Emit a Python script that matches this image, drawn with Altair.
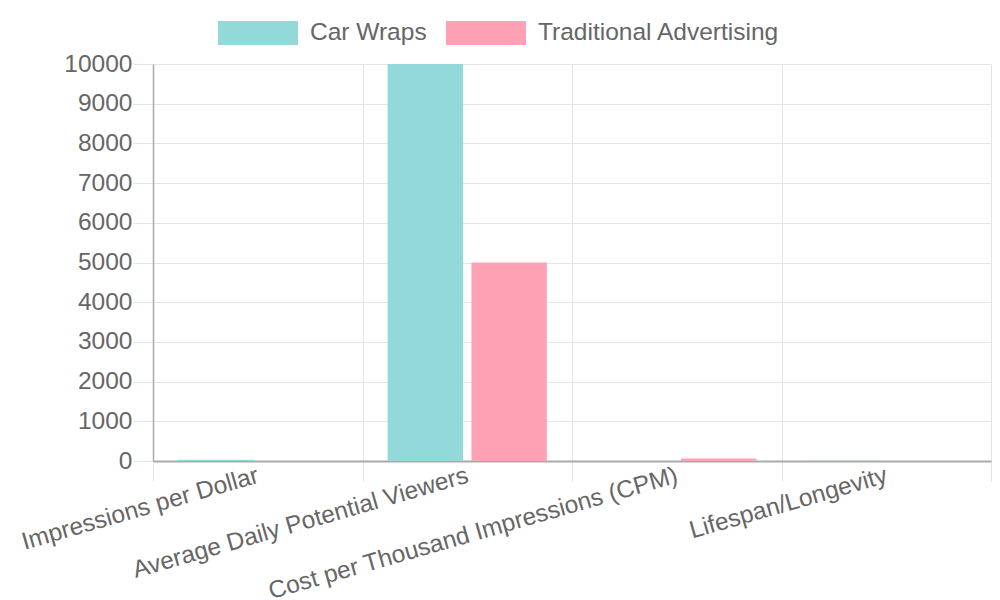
import altair as alt
import pandas as pd

categories = [
    "Impressions per Dollar",
    "Average Daily Potential Viewers",
    "Cost per Thousand Impressions (CPM)",
    "Lifespan/Longevity",
]
series = ["Car Wraps", "Traditional Advertising"]
car_wraps = [30, 10000, 0.7, 5]
traditional = [2, 5000, 60, 1]
colors = ["#93d9d9", "#ffa1b5"]
y_ticks = list(range(0, 10001, 1000))

rows = []
for c, a, b in zip(categories, car_wraps, traditional):
    rows.append({"metric": c, "series": series[0], "value": a})
    rows.append({"metric": c, "series": series[1], "value": b})
df = pd.DataFrame(rows)

FONT = "Liberation Sans"
GRID = "#e5e5e5"
AXIS = "#aaaaaa"
TEXT = "#666666"
FS = 24.5

chart = alt.Chart(df).mark_bar().encode(
    x=alt.X(
        "metric:N",
        sort=categories,
        title=None,
        scale=alt.Scale(paddingInner=0, paddingOuter=0),
        axis=alt.Axis(
            tickBand="extent",
            labelAngle=344,
            labelAlign="right",
            labelBaseline="middle",
            labelPadding=-6,
            tickSize=20,
            grid=True,
            gridColor=GRID,
            tickColor=GRID,
            domainColor=AXIS,
            domainWidth=2,
            labelFontSize=FS,
            labelColor=TEXT,
            labelFont=FONT,
            labelLimit=700,
        ),
    ),
    xOffset=alt.XOffset(
        "series:N", sort=series, scale=alt.Scale(paddingInner=0.1, paddingOuter=0.3)
    ),
    y=alt.Y(
        "value:Q",
        title=None,
        scale=alt.Scale(domain=[0, 10000], nice=False),
        axis=alt.Axis(
            values=y_ticks,
            format="d",
            tickSize=20,
            labelPadding=1,
            grid=True,
            gridColor=GRID,
            tickColor=GRID,
            domainColor=AXIS,
            domainWidth=1.5,
            labelFontSize=FS,
            labelColor=TEXT,
            labelFont=FONT,
        ),
    ),
    color=alt.Color(
        "series:N",
        sort=series,
        scale=alt.Scale(domain=series, range=colors),
        legend=alt.Legend(
            title=None,
            orient="none",
            direction="horizontal",
            legendX=65,
            legendY=-71,
            symbolType="M-1,-0.3L1,-0.3L1,0.3L-1,0.3Z",
            symbolSize=6400,
            symbolStrokeWidth=0,
            symbolOpacity=1,
            labelFontSize=FS,
            labelColor=TEXT,
            labelFont=FONT,
            labelOffset=12,
            columnPadding=19,
            labelLimit=400,
            padding=0,
        ),
    ),
).properties(
    width=838,
    height=397,
    padding={"left": 145, "top": 56, "right": 1, "bottom": 139},
    autosize=alt.AutoSizeParams(type="none"),
).configure_view(strokeWidth=0)

chart.save("out.html", embed_options={"renderer": "svg", "actions": False})
